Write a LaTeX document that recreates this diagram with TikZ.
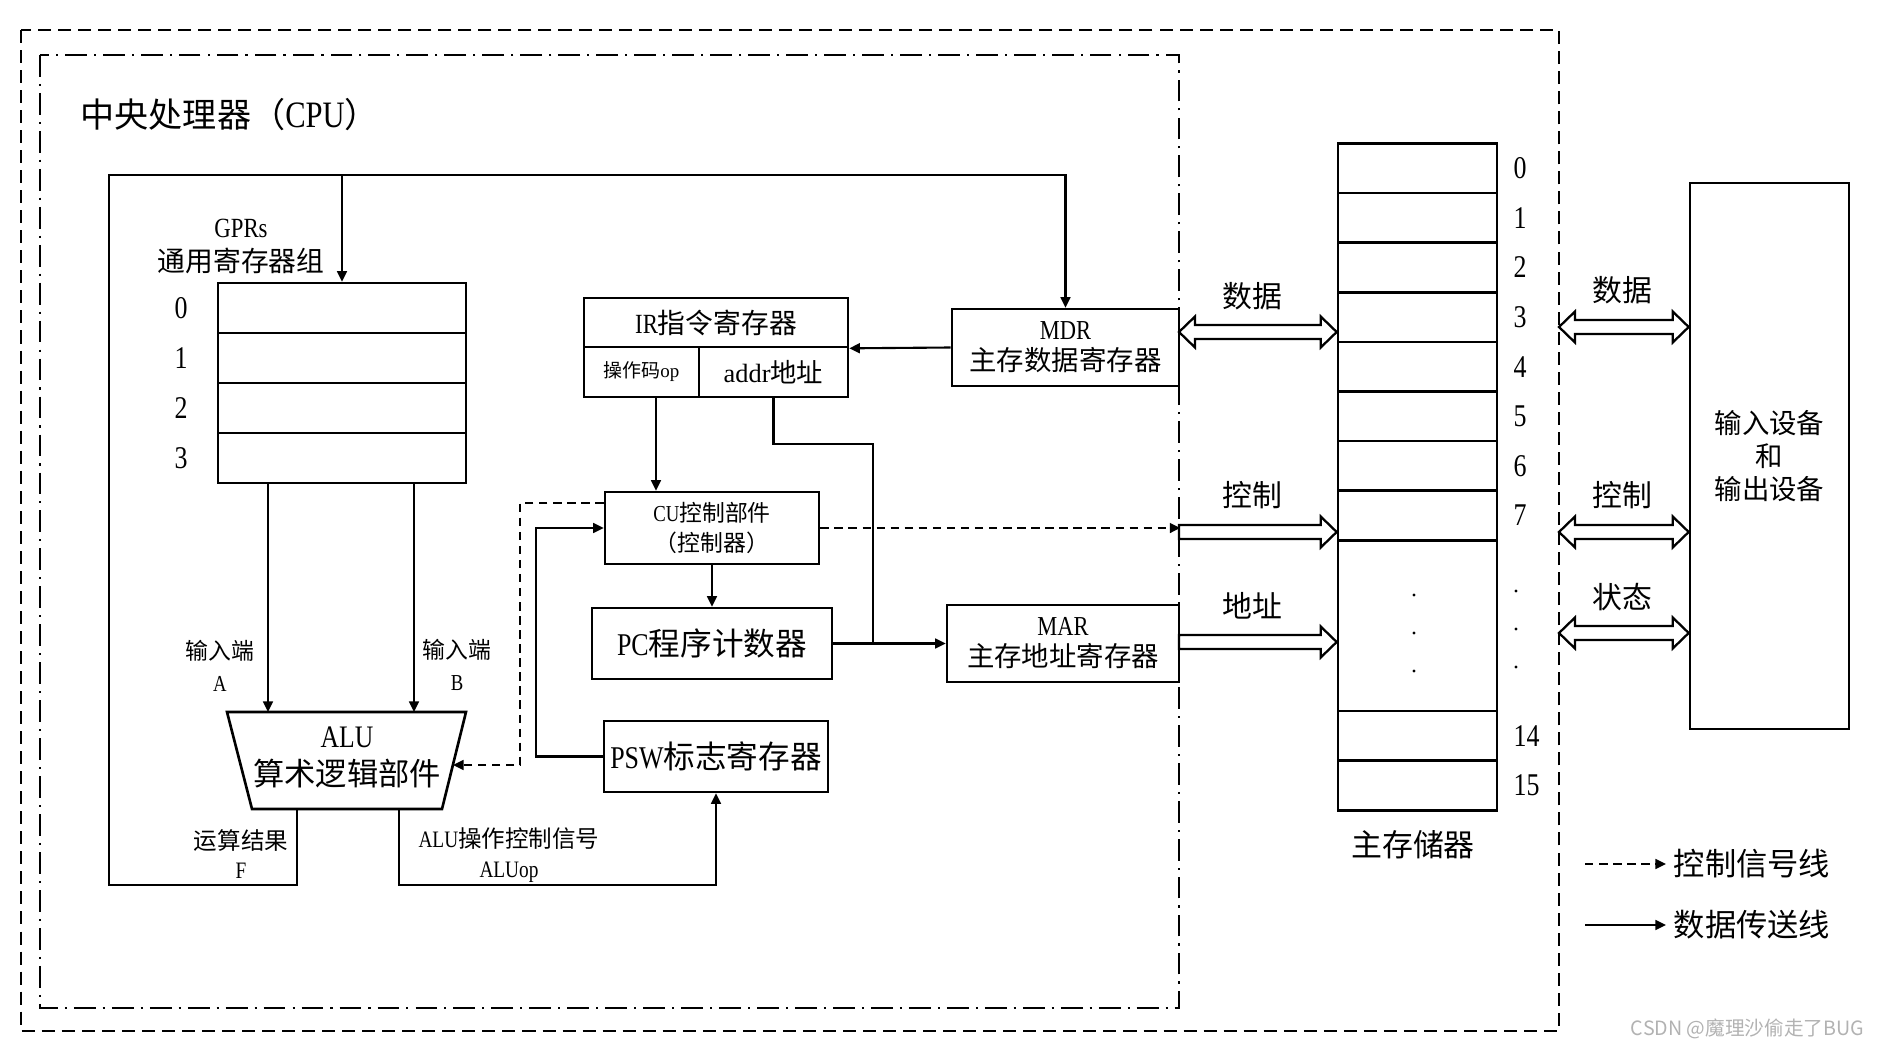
\documentclass[tikz,border=0pt]{standalone}
\usepackage{fontspec}
\setmainfont{Liberation Serif}[FakeStretch=0.82]
\newfontfamily\wide{Liberation Serif}
\newfontfamily\cjk{Noto Sans CJK SC}
\newcommand\zh[1]{{\cjk #1}}
\newcommand\fs[2]{\fontsize{#1}{#2}\selectfont}
\usetikzlibrary{arrows.meta,calc}

\tikzset{
  box/.style={draw, line width=.75pt, inner sep=0pt, align=center},
  cell/.style={draw, line width=.75pt, inner sep=0pt, minimum width=1.59cm, minimum height=.496cm},
  lbl/.style={inner sep=0pt, align=center},
  num/.style={lbl, font=\fs{9}{10}},
  link/.style={line width=.6pt},
  arr/.style={link, -{Triangle[length=3pt,width=2.8pt]}},
  ctlarr/.style={arr, dash pattern=on 2.4pt off 1.6pt},
  bus/.style={draw, line width=.65pt, fill=white},
}

% hollow bus arrows, heads at both ends / at the right end
\newcommand{\busboth}[2]{%
  \draw[bus] (#1) -- ++(.16,.155) -- ++(0,-.085) -- ($(#2)+(-.16,.07)$) -- ++(0,.085) -- (#2)
    -- ++(-.16,-.155) -- ++(0,.085) -- ($(#1)+(.16,-.07)$) -- ++(0,-.085) -- cycle;}
\newcommand{\busright}[2]{%
  \draw[bus] ($(#1)+(0,.07)$) -- ($(#2)+(-.16,.07)$) -- ++(0,.085) -- (#2)
    -- ++(-.16,-.155) -- ++(0,.085) -- ($(#1)+(0,-.07)$) -- cycle;}

\begin{document}
\begin{tikzpicture}[x=1cm,y=-1cm]
\useasboundingbox (0,0) rectangle (18.79,10.48);

% frames
\draw[line width=.6pt, dash pattern=on 3.7pt off 2pt] (0.21,0.30) rectangle (15.59,10.31);
\draw[line width=.6pt, dash pattern=on 6.2pt off 2pt on .6pt off 2pt] (0.40,0.55) rectangle (11.79,10.08);
\node[lbl, anchor=west, font=\fs{9.7}{11}] (title) at (0.80,1.15) {\zh{中央处理器（}{\fs{10.6}{11}CPU}\zh{）}};

% GPRs
\foreach \i in {0,...,3} {
  \node[cell, minimum width=2.48cm, minimum height=.5cm] (g\i) at (3.42,3.08+.5*\i) {};
  \node[num] at (1.81,3.08+.5*\i) {\i};
}
\node[lbl, font=\fs{7.9}{9.4}] (gprs) at (2.41,2.465) {GPRs\\\zh{通用寄存器组}};

% registers in the CPU
\node[box, minimum width=2.64cm, minimum height=.49cm, font=\fs{7.9}{9}] (ir) at (7.16,3.225) {IR\zh{指令寄存器}};
\node[box, minimum width=1.15cm, minimum height=.50cm, font=\fs{5.4}{6}] (op) at (6.415,3.72) {\zh{操作码}{\wide op}};
\node[box, minimum width=1.49cm, minimum height=.50cm, font=\fs{7.5}{8}] (addr) at (7.735,3.72) {{\wide addr}\zh{地址}};
\node[box, minimum width=2.27cm, minimum height=.77cm, font=\fs{7.8}{8.8}] (mdr) at (10.655,3.475) {MDR\\\zh{主存数据寄存器}};
\node[box, minimum width=2.14cm, minimum height=.72cm, font=\fs{6.5}{8.3}] (cu) at (7.12,5.28) {CU\zh{控制部件}\\\zh{（控制器）}};
\node[box, minimum width=2.40cm, minimum height=.71cm, font=\fs{9}{10}] (pc) at (7.12,6.435) {PC\zh{程序计数器}};
\node[box, minimum width=2.32cm, minimum height=.77cm, font=\fs{7.8}{8.8}] (mar) at (10.63,6.435) {MAR\\\zh{主存地址寄存器}};
\node[box, minimum width=2.24cm, minimum height=.71cm, font=\fs{9}{10}] (psw) at (7.16,7.565) {PSW\zh{标志寄存器}};

% ALU
\coordinate (alu nw) at (2.27,7.12);
\coordinate (alu ne) at (4.66,7.12);
\coordinate (alu se) at (4.42,8.09);
\coordinate (alu sw) at (2.52,8.09);
\draw[line width=.75pt] (alu nw) -- (alu ne) -- (alu se) -- (alu sw) -- cycle;
\node[lbl, font=\fs{8.9}{10.7}] (alu) at (3.47,7.575) {ALU\\\zh{算术逻辑部件}};
\coordinate (inA) at (2.68,7.12);
\coordinate (inB) at (4.14,7.12);
\coordinate (outF) at (2.97,8.09);
\coordinate (outOp) at (3.99,8.09);
\coordinate (aluR) at (4.53,7.65);
\coordinate (ctlX) at (5.20,7.65);
\coordinate (loopL) at (1.09,8.85);
\coordinate (loopT) at (1.09,1.75);
\coordinate (junc) at (8.73,6.435);

\node[lbl, font=\fs{6.5}{9.1}] (lblA) at (2.20,6.66) {\zh{输入端}\\A};
\node[lbl, font=\fs{6.5}{9.1}] (lblB) at (4.57,6.645) {\zh{输入端}\\B};
\node[lbl, font=\fs{6.7}{8}] (lblF) at (2.41,8.54) {\zh{运算结果}\\F};
\node[lbl, font=\fs{6.7}{8.5}] (lblOp) at (5.09,8.55) {ALU\zh{操作控制信号}\\ALUop};

% CPU connections
\draw[arr] (g3.south -| inA) -- (inA);
\draw[arr] (g3.south -| inB) -- (inB);
\draw[arr] (outF) |- (loopL) -- (loopT) -| (mdr.north);
\draw[arr] (g0.north |- loopT) -- (g0.north);
\draw[arr] (outOp) |- (loopL -| psw.south) -- (psw.south);
\draw[arr] (psw.west) -| ([xshift=-.68cm]cu.west) -- (cu.west);
\draw[ctlarr] ([yshift=.25cm]cu.west) -| (ctlX) -- (aluR);
\draw[arr] (mdr.west) -- (ir.south east);
\draw[arr] ([xshift=.145cm]op.south) -- ([xshift=.145cm]op.south |- cu.north);
\draw[arr] (cu.south) -- (pc.north);
\draw[arr] (pc.east) -- (mar.west);
\draw[link] (addr.south) -- ++(0,.46) -| (junc);
\draw[ctlarr] (cu.east) -- (cu.east -| mdr.east);

% main memory
\foreach \i in {0,...,7} {
  \node[cell] (m\i) at (14.175,1.683+.496*\i) {};
  \node[num, anchor=west] at (15.13,1.683+.496*\i) {\i};
}
\node[cell, minimum height=1.707cm] (mgap) at (14.175,6.2565) {};
\node[cell] (m14) at (14.175,7.358) {};
\node[cell] (m15) at (14.175,7.854) {};
\node[num, anchor=west] at (15.13,7.358) {14};
\node[num, anchor=west] at (15.13,7.854) {15};
\foreach \y in {5.95,6.33,6.71} {
  \fill (14.14,\y) circle (.017);
  \fill (15.16,\y-.04) circle (.017);
}
\node[lbl, font=\fs{8.8}{10}] (memlbl) at (14.13,8.45) {\zh{主存储器}};

% I/O
\node[box, minimum width=1.59cm, minimum height=5.46cm, font=\fs{7.8}{9.4}] (io) at (17.695,4.56) {\zh{输入设备}\\\zh{和}\\\zh{输出设备}};

% buses
\coordinate (dL) at (11.79,3.32);
\coordinate (cL) at (11.79,5.32);
\coordinate (aL) at (11.79,6.42);
\busboth{dL}{m0.west |- dL}
\busright{cL}{m0.west |- cL}
\busright{aL}{m0.west |- aL}
\node[lbl, font=\fs{8.5}{10}] (lbld) at (12.52,2.96) {\zh{数据}};
\node[lbl, font=\fs{8.5}{10}] (lblc) at (12.52,4.95) {\zh{控制}};
\node[lbl, font=\fs{8.5}{10}] (lbla) at (12.52,6.06) {\zh{地址}};

\coordinate (rdL) at (15.59,3.27);
\coordinate (rcL) at (15.59,5.32);
\coordinate (rsL) at (15.59,6.33);
\busboth{rdL}{io.west |- rdL}
\busboth{rcL}{io.west |- rcL}
\busboth{rsL}{io.west |- rsL}
\node[lbl, font=\fs{8.5}{10}] (rlbld) at (16.22,2.90) {\zh{数据}};
\node[lbl, font=\fs{8.5}{10}] (rlblc) at (16.22,4.95) {\zh{控制}};
\node[lbl, font=\fs{8.5}{10}] (rlbls) at (16.22,5.97) {\zh{状态}};

% legend
\node[lbl, anchor=west, font=\fs{8.9}{10}] (lgc) at (16.73,8.64) {\zh{控制信号线}};
\node[lbl, anchor=west, font=\fs{8.9}{10}] (lgd) at (16.73,9.25) {\zh{数据传送线}};
\coordinate (lgcS) at (15.85,8.64);
\coordinate (lgdS) at (15.85,9.25);
\draw[ctlarr] (lgcS) -- ([xshift=-.07cm]lgc.west);
\draw[arr] (lgdS) -- ([xshift=-.07cm]lgd.west);

\node[anchor=east, inner sep=0pt, text=gray!60, font=\cjk\fs{5.6}{6}] (mark) at (18.65,10.29) {CSDN @魔理沙偷走了BUG};
\end{tikzpicture}
\end{document}
